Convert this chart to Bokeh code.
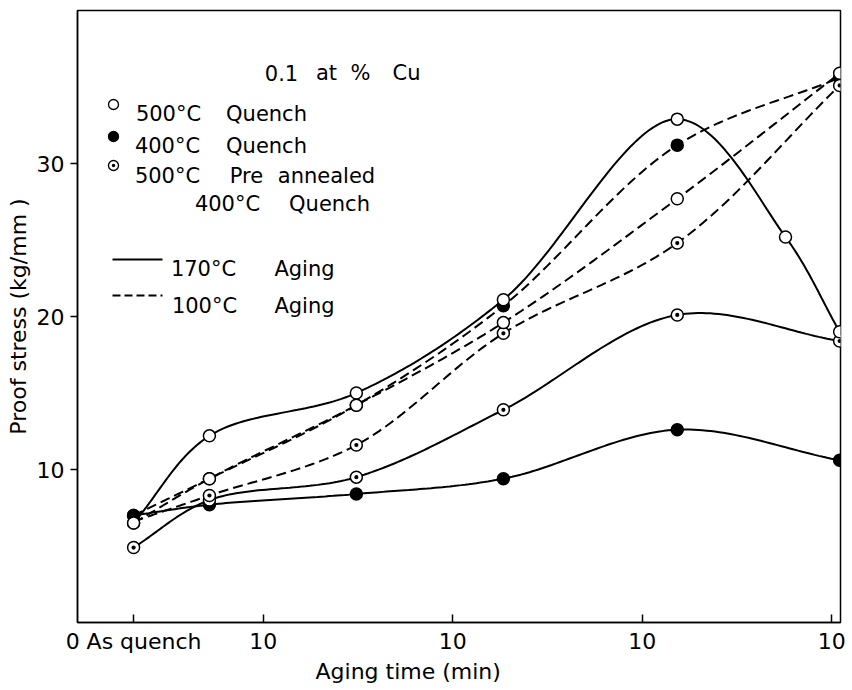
import math
import numpy as np
from bokeh.plotting import figure
from bokeh.models import FixedTicker, Range1d, Title
from bokeh.core.properties import value
from bokeh.embed import file_html
from bokeh.resources import INLINE

# Aging times in minutes; None is the as-quenched state
times = [None, 5.2, 31, 185, 1530, 5700, 11000]

# Proof stress (kg/mm^2) for each heat treatment and aging temperature
q500_170 = [6.5, 12.2, 15.0, 21.1, 32.9, 25.2, 19.0]
q500_100 = [6.5, 9.4, 14.2, 19.6, 27.7, None, 35.9]
q400_170 = [7.0, 7.7, 8.4, 9.4, 12.6, None, 10.6]
q400_100 = [7.0, 9.4, 14.2, 20.7, 31.2, None, 35.6]
pre_170 = [4.9, 8.0, 9.5, 13.9, 20.1, None, 18.4]
pre_100 = [6.6, 8.3, 11.6, 18.9, 24.8, None, 35.1]

tick_times = [None, 10, 100, 1000, 10000]
tick_labels = ["0 As quench", "10", "10", "10", "10"]
y_ticks = [10, 20, 30]

# ---- layout ---------------------------------------------------------------
W, H = 852, 690
F_LEFT, F_RIGHT, F_TOP, F_BOTTOM = 77, 840, 10, 622
X0, X1 = 0.02, 4.046
Y0, Y1 = 0.0, 40.0
AQ_POS = 0.316  # axis position of the as-quenched state
SX = (F_RIGHT - F_LEFT) / (X1 - X0)
SY = (F_BOTTOM - F_TOP) / (Y1 - Y0)
FONT = "DejaVu Sans"


def xpos(t):
    return AQ_POS if t is None else math.log10(t)


def px_x(px):
    return X0 + (px - F_LEFT) / SX


def px_y(py):
    return Y0 + (F_BOTTOM - py) / SY


def points(vals):
    xs = [xpos(t) for t, v in zip(times, vals) if v is not None]
    ys = [v for v in vals if v is not None]
    return np.array(xs), np.array(ys)


def smooth(xs, ys, n=40):
    """Centripetal Catmull-Rom curve through the points (in screen scale)."""
    P = np.column_stack([xs * SX, ys * SY])
    P = np.vstack([2 * P[0] - P[1], P, 2 * P[-1] - P[-2]])
    out = []
    for i in range(len(P) - 3):
        p0, p1, p2, p3 = P[i], P[i + 1], P[i + 2], P[i + 3]
        t0 = 0.0
        t1 = t0 + np.hypot(*(p1 - p0)) ** 0.5
        t2 = t1 + np.hypot(*(p2 - p1)) ** 0.5
        t3 = t2 + np.hypot(*(p3 - p2)) ** 0.5
        t = np.linspace(t1, t2, n)[:, None]
        A1 = (t1 - t) / (t1 - t0) * p0 + (t - t0) / (t1 - t0) * p1
        A2 = (t2 - t) / (t2 - t1) * p1 + (t - t1) / (t2 - t1) * p2
        A3 = (t3 - t) / (t3 - t2) * p2 + (t - t2) / (t3 - t2) * p3
        B1 = (t2 - t) / (t2 - t0) * A1 + (t - t0) / (t2 - t0) * A2
        B2 = (t3 - t) / (t3 - t1) * A2 + (t - t1) / (t3 - t1) * A3
        C = (t2 - t) / (t2 - t1) * B1 + (t - t1) / (t2 - t1) * B2
        out.append(C if i == 0 else C[1:])
    C = np.vstack(out)
    return C[:, 0] / SX, C[:, 1] / SY


p = figure(
    width=W, height=H,
    x_range=Range1d(X0, X1), y_range=Range1d(Y0, Y1),
    output_backend="svg", toolbar_location=None,
    min_border_left=F_LEFT, min_border_right=W - F_RIGHT,
    min_border_top=F_TOP, min_border_bottom=H - F_BOTTOM,
)
p.xgrid.visible = False
p.ygrid.visible = False
p.outline_line_color = "black"
p.outline_line_width = 1.5
p.background_fill_color = "white"
p.border_fill_color = "white"

tick_pos = [xpos(t) for t in tick_times]
p.xaxis.ticker = FixedTicker(ticks=tick_pos)
p.xaxis.major_label_overrides = {pos: lab for pos, lab in zip(tick_pos, tick_labels)}
p.xaxis.major_tick_in = 8
p.xaxis.major_tick_out = 0
p.xaxis.major_label_standoff = 6
p.yaxis.ticker = FixedTicker(ticks=y_ticks)
p.yaxis.major_tick_in = 0
p.yaxis.major_tick_out = 7
p.yaxis.major_label_standoff = 6
p.yaxis.axis_label = "Proof stress (kg/mm )"
p.yaxis.axis_label_standoff = 3
for ax in (p.xaxis, p.yaxis):
    ax.minor_tick_line_color = None
    ax.axis_line_color = "black"
    ax.axis_line_width = 1.5
    ax.major_tick_line_color = "black"
    ax.major_tick_line_width = 1.5
    ax.major_label_text_font = FONT
    ax.major_label_text_font_size = "22px"
    ax.major_label_text_color = "black"
    ax.axis_label_text_font = FONT
    ax.axis_label_text_font_size = "22px"
    ax.axis_label_text_font_style = "normal"
    ax.axis_label_text_color = "black"

# x-axis title, set a little left of the frame centre
p.add_layout(Title(text="Aging time (min)", align="left", offset=238,
                   standoff=0, text_font=FONT, text_font_size="22px",
                   text_font_style="normal", text_color="black"), "below")

# ---- curves ---------------------------------------------------------------
SOLID, DASH = "solid", "10 5"
for vals, dash in [(q500_170, SOLID), (q500_100, DASH), (q400_170, SOLID),
                   (q400_100, DASH), (pre_170, SOLID), (pre_100, DASH)]:
    xs, ys = points(vals)
    cx, cy = smooth(xs, ys)
    p.line(cx, cy, line_color="black", line_width=2, line_dash=dash)

# ---- markers --------------------------------------------------------------
MS = 12


def dotted_circle(xs, ys, size, lw):
    p.scatter(xs, ys, marker="circle", size=size, fill_color="white",
              line_color="black", line_width=lw)
    p.scatter(xs, ys, marker="circle", size=size * 0.35, fill_color="black",
              line_color=None)


for vals in (q400_170, q400_100):
    xs, ys = points(vals)
    p.scatter(xs, ys, marker="circle", size=MS, fill_color="black",
              line_color="black", line_width=1.5)
xs, ys = points(pre_170)
dotted_circle(xs, ys, MS, 1.5)
xs, ys = points(pre_100)
dotted_circle(xs[1:], ys[1:], MS, 1.5)
for vals in (q500_170, q500_100):
    xs, ys = points(vals)
    p.scatter(xs, ys, marker="circle", size=MS, fill_color="white",
              line_color="black", line_width=1.5)

# ---- key ------------------------------------------------------------------
words = [("0.1", 281, 72), ("at", 326, 72), ("%", 360, 72), ("Cu", 406, 72),
         ("500°C", 168, 113), ("Quench", 266, 113),
         ("400°C", 167, 145), ("Quench", 266, 145),
         ("500°C", 167, 175), ("Pre", 246, 175), ("annealed", 326, 175),
         ("400°C", 227, 203), ("Quench", 329, 203),
         ("170°C", 203, 268), ("Aging", 304, 268),
         ("100°C", 204, 305), ("Aging", 304, 305)]
p.text(x=[px_x(w[1]) for w in words], y=[px_y(w[2]) for w in words],
       text=[w[0] for w in words], text_font=value(FONT),
       text_font_size=value("21px"), text_color="black",
       text_align="center", text_baseline="alphabetic")

KS = 10
p.scatter([px_x(113)], [px_y(104)], marker="circle", size=KS,
          fill_color="white", line_color="black", line_width=1.3)
p.scatter([px_x(113)], [px_y(136)], marker="circle", size=KS,
          fill_color="black", line_color="black", line_width=1.3)
dotted_circle([px_x(113)], [px_y(165)], KS, 1.3)
p.line([px_x(112), px_x(162)], [px_y(259), px_y(259)], line_color="black",
       line_width=2)
p.line([px_x(112), px_x(162)], [px_y(295), px_y(295)], line_color="black",
       line_width=2, line_dash="8 4")

open("out.html", "w").write(file_html(p, INLINE))
